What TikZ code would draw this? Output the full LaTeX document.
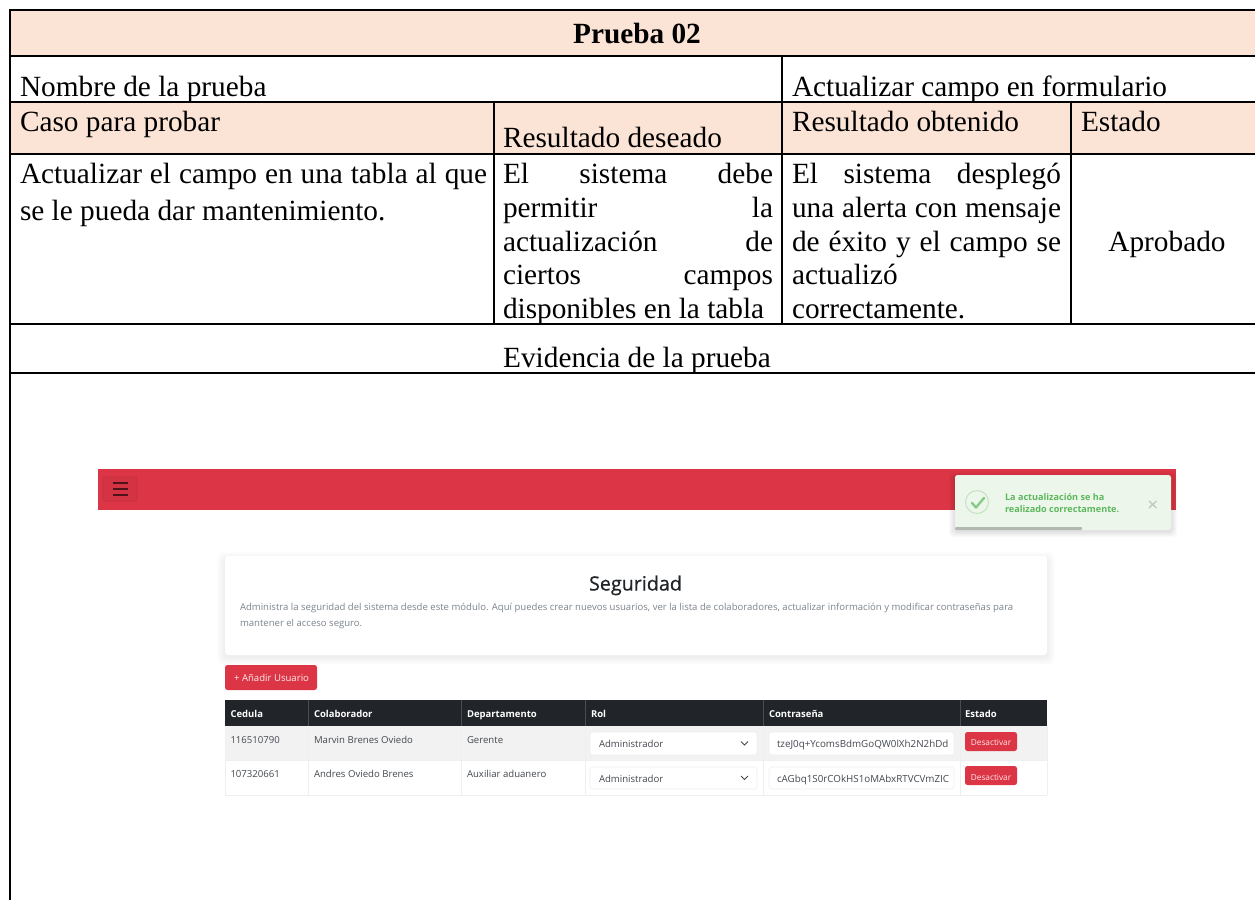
\documentclass[tikz,border=0pt]{standalone}
\usepackage{fontspec}
\setmainfont{Liberation Serif}
\newfontfamily\uifont{Open Sans}
\newfontfamily\uisemi[FakeBold=0.7]{Open Sans}
\definecolor{peach}{HTML}{FBE4D5}
\definecolor{navred}{HTML}{DC3545}
\definecolor{navdark}{HTML}{212529}
\definecolor{mutedtxt}{HTML}{7C848C}
\definecolor{rowgrey}{HTML}{F2F2F2}
\definecolor{gridline}{HTML}{EDEFF1}
\definecolor{toastbg}{HTML}{EDF6EA}
\definecolor{toastgreen}{HTML}{5CB85C}
\definecolor{celltxt}{HTML}{43484E}
\newcommand{\jline}[3]{\makebox[#1pt][s]{#2\hfill #3}}
\tikzset{
  x=1pt,y=-1pt,
  rule/.style={line width=2pt,black},
  doc/.style={inner sep=0,outer sep=0,anchor=base west,font=\fontsize{29.3}{29.3}\selectfont,text=black},
  ui/.style={inner sep=0,outer sep=0,anchor=base west,font=\uifont\fontsize{#1}{#1}\selectfont},
  ui/.default=10,
  head/.style={ui=9.5,text=white,font=\uifont\bfseries\fontsize{9.5}{9.5}\selectfont},
  cell/.style={ui=9.6,text=celltxt},
  field/.style={draw=gridline,line width=.6pt,fill=white,rounded corners=3pt},
  redbtn/.style={fill=navred,draw=none,rounded corners=2.5pt},
  gridl/.style={draw=gridline,line width=.8pt},
}
\begin{document}
\begin{tikzpicture}
\useasboundingbox (0,0) rectangle (1255,900);
\fill[white] (0,0) rectangle (1255,900);
% shaded table rows
\fill[peach] (10,10) rectangle (1255,56);
\fill[peach] (10,102) rectangle (1255,154);
% table rules
\foreach \yy in {10,56,102,154,324,373} \draw[rule] (9,\yy) -- (1255,\yy);
\draw[rule] (10,9) -- (10,900);
\draw[rule] (494,102) -- (494,324);
\draw[rule] (782,56) -- (782,324);
\draw[rule] (1071,102) -- (1071,324);
% table text
\node[doc,anchor=base,font=\bfseries\fontsize{29.3}{29.3}\selectfont] (title) at (637,43) {Prueba 02};
\node[doc] (nombre) at (20,96) {Nombre de la prueba};
\node[doc] (actualizar) at (792,96) {Actualizar campo en formulario};
\node[doc] (caso) at (20,131) {Caso para probar};
\node[doc] (deseado) at (503,147) {Resultado deseado};
\node[doc] (obtenido) at (792,131) {Resultado obtenido};
\node[doc] (estado) at (1081,131) {Estado};
\node[doc] (a1) at (20,183) {\makebox[467pt][s]{Actualizar el campo en una tabla al que}};
\node[doc] (a2) at (20,220) {se le pueda dar mantenimiento.};
\node[doc] (b1) at (503,183) {\makebox[270pt][s]{El\hfill sistema\hfill debe}};
\node[doc] (b2) at (503,217) {\jline{270}{permitir}{la}};
\node[doc] (b3) at (503,251) {\jline{270}{actualización}{de}};
\node[doc] (b4) at (503,284) {\jline{270}{ciertos}{campos}};
\node[doc] (b5) at (503,318) {disponibles en la tabla};
\node[doc] (c1) at (792,183) {\makebox[269pt][s]{El\hfill sistema\hfill desplegó}};
\node[doc] (c2) at (792,217) {\makebox[269pt][s]{una alerta con mensaje}};
\node[doc] (c3) at (792,251) {\makebox[269pt][s]{de éxito y el campo se}};
\node[doc] (c4) at (792,284) {actualizó};
\node[doc] (c5) at (792,318) {correctamente.};
\node[doc,anchor=base] (aprobado) at (1167,251) {Aprobado};
\node[doc,anchor=base] (evidencia) at (637,367) {Evidencia de la prueba};
% navbar
\fill[navred] (98,469) rectangle (1176,510);
\draw[draw=black!10!navred,fill=black!4!navred,line width=.7pt,rounded corners=2pt] (103,477) rectangle (137,501);
\foreach \yy in {483,489,495} \draw[black!65!navred,line width=1.2pt] (113,\yy) -- (128,\yy);
% toast
\foreach \ii in {1,...,6} \fill[black,opacity=.018,rounded corners=4pt] (955-\ii,476-\ii+2) rectangle (1171+\ii,530+\ii+1);
\fill[toastbg,rounded corners=2.5pt] (955,475) rectangle (1171,530);
\fill[black!25!toastbg,rounded corners=1pt] (955,527) rectangle (1082,530);
\draw[toastgreen!30!toastbg,line width=1pt] (977,502) circle (11.5);
\draw[toastgreen!70!toastbg,line width=2.4pt,line cap=round,line join=round] (972,503) -- (976,507.5) -- (984,498);
\node[ui=9.1,text=toastgreen,font=\uifont\bfseries\fontsize{9.1}{9.1}\selectfont] (t1) at (1005,500) {La actualización se ha};
\node[ui=9.1,text=toastgreen,font=\uifont\bfseries\fontsize{9.1}{9.1}\selectfont] (t2) at (1005,512) {realizado correctamente.};
\draw[black!22,line width=1.4pt] (1149,501) -- (1156.5,508) (1156.5,501) -- (1149,508);
% card
\foreach \ii in {1,...,8} \fill[black,opacity=.008,rounded corners=5pt] (225-\ii,556-\ii+4) rectangle (1047+\ii,655+\ii+2);
\fill[white,rounded corners=3pt] (225,556) rectangle (1047,655);
\node[ui=19.5,anchor=base,text=navdark,font=\uisemi\fontsize{19.7}{19.7}\selectfont] (seg) at (635.5,590.5) {Seguridad};
\node[ui=9.55,text=mutedtxt] (d1) at (240,610) {Administra la seguridad del sistema desde este módulo. Aquí puedes crear nuevos usuarios, ver la lista de colaboradores, actualizar información y modificar contraseñas para};
\node[ui=9.55,text=mutedtxt] (d2) at (240,626) {mantener el acceso seguro.};
% add button
\fill[redbtn] (225,665) rectangle (317,690);
\node[ui=9.6,anchor=base,text=white!90!navred] (add) at (271.5,681) {+ Añadir Usuario};
% data table
\fill[rowgrey] (225,726) rectangle (1047,760);
\foreach \xx in {225,308,461,585,763,960,1047} \draw[gridl] (\xx,726) -- (\xx,795);
\draw[gridl] (225,760) -- (1047,760) (225,795) -- (1047,795);
\fill[navdark] (225,700) rectangle (1047,726);
\foreach \xx in {308,461,585,763,960} \draw[white!18!navdark,line width=.7pt] (\xx,700) -- (\xx,726);
\node[head] (h1) at (230.5,717) {Cedula};
\node[head] (h2) at (314,717) {Colaborador};
\node[head] (h3) at (467,717) {Departamento};
\node[head] (h4) at (591,717) {Rol};
\node[head] (h5) at (769,717) {Contraseña};
\node[head] (h6) at (965,717) {Estado};
\node[cell] (r1a) at (230.5,743) {116510790};
\node[cell] (r1b) at (314,743) {Marvin Brenes Oviedo};
\node[cell] (r1c) at (467,743) {Gerente};
\node[cell] (r2a) at (230.5,777) {107320661};
\node[cell] (r2b) at (314,777) {Andres Oviedo Brenes};
\node[cell] (r2c) at (467,777) {Auxiliar aduanero};
% row 1 controls
\draw[field] (590,732) rectangle (757,755);
\node[cell] (s1) at (599,747) {Administrador};
\draw[celltxt,line width=.9pt] (741,741.5) -- (744.5,745) -- (748,741.5);
\draw[field] (769,732) rectangle (954,755);
\begin{scope}
\clip (770,733) rectangle (948,754);
\node[cell,font=\uifont\fontsize{9.8}{9.8}\selectfont] (p1) at (777,747) {tzeJ0q+YcomsBdmGoQW0lXh2N2hDd};
\end{scope}
\fill[redbtn] (965,732) rectangle (1017,751);
\node[ui=8.3,anchor=base,text=white!88!navred] (b1x) at (991,745) {Desactivar};
% row 2 controls
\draw[field] (590,767) rectangle (757,789);
\node[cell] (s2) at (599,782) {Administrador};
\draw[celltxt,line width=.9pt] (741,776) -- (744.5,779.5) -- (748,776);
\draw[field] (769,767) rectangle (954,789);
\begin{scope}
\clip (770,768) rectangle (948,788);
\node[cell,font=\uifont\fontsize{9.8}{9.8}\selectfont] (p2) at (777,782) {cAGbq1S0rCOkHS1oMAbxRTVCVmZIC};
\end{scope}
\fill[redbtn] (965,766) rectangle (1017,785);
\node[ui=8.3,anchor=base,text=white!88!navred] (b2x) at (991,780) {Desactivar};
\end{tikzpicture}
\end{document}
